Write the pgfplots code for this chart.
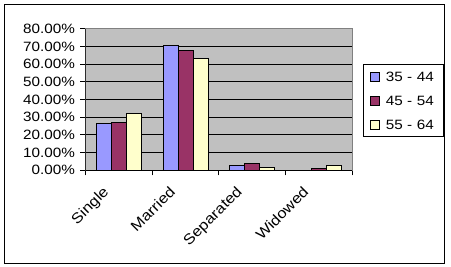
\documentclass[border=0pt]{standalone}
\usepackage{fontspec}
\setmainfont{Liberation Sans}[FakeStretch=1.13]
\usepackage{pgfplots}
\pgfplotsset{compat=1.18}
\definecolor{bgray}{RGB}{192,192,192}
\definecolor{bordgray}{RGB}{128,128,128}
\definecolor{sblue}{RGB}{153,153,255}
\definecolor{smaroon}{RGB}{153,51,102}
\definecolor{syellow}{RGB}{255,255,204}
\begin{document}
\begin{tikzpicture}
\begin{axis}[
  at={(0,0)}, anchor=south west,
  scale only axis, width=266.8bp, height=141.5bp,
  ybar=0pt, bar width=15bp,
  xmin=-0.5, xmax=3.5, ymin=0, ymax=80,
  axis background/.style={fill=bgray},
  axis line style={draw=bordgray, line width=1bp},
  ytick={0,10,...,80},
  ymajorgrids, major grid style={black, line width=1bp},
  yticklabel={\pgfmathprintnumber[fixed,fixed zerofill,precision=2]{\tick}\%},
  /pgf/number format/assume math mode=true,
  xtick={-0.5,0.5,1.5,2.5,3.5}, xticklabels={\empty,\empty,\empty,\empty,\empty},
  extra x ticks={0,1,2,3},
  extra x tick labels={Single,Married,Separated,Widowed},
  extra x tick style={major tick length=0pt, grid=none,
     xticklabel style={rotate=45, anchor=north east, inner sep=0pt, xshift=-22.5bp, yshift=1.5bp, font=\fontsize{14.5bp}{16bp}\selectfont}},
  tick align=outside, major tick length=5bp,
  tick style={black, line width=1bp},
  xtick pos=bottom, ytick pos=left,
  tick label style={font=\fontsize{13.5bp}{16bp}\selectfont},
  yticklabel style={xshift=-2bp},
  legend style={at={(1.0412,0.7512)}, anchor=north west, draw=black, line width=1bp, fill=white,
     inner xsep=6bp, inner ysep=7bp, row sep=14bp, column sep=6bp,
     font=\fontsize{13.5bp}{16bp}\selectfont,
     nodes={inner sep=0pt, text height=9.7bp, text depth=0pt, anchor=west, text width=52bp}},
  legend cell align=left,
  every axis plot post/.append style={legend image code/.code={\draw[#1, draw=black, line width=1bp] (0bp,-4.5bp) rectangle (9bp,4.5bp);}},
]
\addplot[fill=sblue, draw=black, line width=1bp] coordinates {(0,26.6) (1,70.7) (2,2.8) (3,0)};
\addplot[fill=smaroon, draw=black, line width=1bp] coordinates {(0,27.1) (1,67.8) (2,4.0) (3,1.1)};
\addplot[fill=syellow, draw=black, line width=1bp] coordinates {(0,32.2) (1,63.3) (2,1.7) (3,2.8)};
\legend{35 - 44, 45 - 54, 55 - 64}
\draw[black, line width=1bp] (rel axis cs:0,1) -- (rel axis cs:0,0) -- (rel axis cs:1,0);
\end{axis}
\draw[black, line width=1bp] (-80.5bp,-92.7bp) rectangle (358.5bp,165.3bp);
\pgfresetboundingbox
\useasboundingbox (-85.5bp,-96.7bp) rectangle (365.5bp,170.3bp);
\end{tikzpicture}
\end{document}
